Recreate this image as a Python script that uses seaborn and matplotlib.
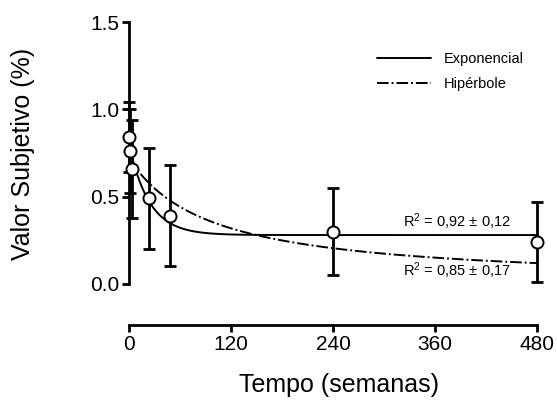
import numpy as np
import pandas as pd
import matplotlib
matplotlib.use("Agg")
import matplotlib.pyplot as plt
import seaborn as sns

# Data
weeks = [0.5, 1, 4, 24, 48, 240, 480]
value = [0.84, 0.76, 0.66, 0.49, 0.39, 0.30, 0.24]
sem = [0.20, 0.24, 0.28, 0.29, 0.29, 0.25, 0.23]

# Fitted model parameters
exp_y0, exp_plateau, exp_k = 0.80, 0.28, 0.042
hyp_a, hyp_k = 0.72, 0.0105

xticks = [0, 120, 240, 360, 480]
yticks = [0.0, 0.5, 1.0, 1.5]
ytick_labels = ["0.0", "0.5", "1.0", "1.5"]

sns.set_theme(style="ticks")
plt.rcParams["font.family"] = ["Liberation Sans", "DejaVu Sans"]
plt.rcParams["mathtext.fontset"] = "custom"
plt.rcParams["mathtext.rm"] = "Liberation Sans"
plt.rcParams["mathtext.it"] = "Liberation Sans"
plt.rcParams["mathtext.default"] = "regular"
plt.rcParams["text.color"] = "black"
plt.rcParams["axes.labelcolor"] = "black"
plt.rcParams["xtick.color"] = "black"
plt.rcParams["ytick.color"] = "black"

fig = plt.figure(figsize=(5.57, 4.01), dpi=100)
ax = fig.add_axes([129 / 557, (401 - 325) / 401, (537 - 129) / 557, (325 - 22) / 401])

xs = np.linspace(0, 480, 600)
curves = pd.DataFrame({
    "x": np.concatenate([xs, xs]),
    "y": np.concatenate([
        exp_plateau + (exp_y0 - exp_plateau) * np.exp(-exp_k * xs),
        hyp_a / (1 + hyp_k * xs),
    ]),
    "Modelo": ["Exponencial"] * len(xs) + ["Hipérbole"] * len(xs),
})

sns.lineplot(data=curves, x="x", y="y", style="Modelo",
             dashes={"Exponencial": "", "Hipérbole": (6, 1.5, 1, 1.5)},
             color="black", linewidth=1.4, ax=ax)

ax.errorbar(weeks, value, yerr=sem, fmt="none", ecolor="black",
            elinewidth=2, capsize=4.5, capthick=2, clip_on=False, zorder=3)
sns.scatterplot(x=weeks, y=value, marker="o", s=75, facecolor="white",
                edgecolor="black", linewidth=1.4, ax=ax, zorder=4, clip_on=False)

ax.set_xlim(0, 480)
ax.set_ylim(-0.235, 1.5)
ax.set_xticks(xticks)
ax.set_xticklabels([str(t) for t in xticks], fontsize=15, color="black")
ax.set_yticks(yticks)
ax.set_yticklabels(ytick_labels, fontsize=15, color="black")
ax.spines["left"].set_bounds(0, 1.5)
ax.spines["bottom"].set_bounds(0, 480)
for s in ["left", "bottom"]:
    ax.spines[s].set_linewidth(2)
    ax.spines[s].set_color("black")
sns.despine(ax=ax)
ax.tick_params(axis="both", width=2, length=5, color="black", pad=2, labelcolor="black")

ax.set_xlabel("Tempo (semanas)", fontsize=18, color="black")
ax.set_ylabel("Valor Subjetivo (%)", fontsize=18, color="black")
ax.xaxis.set_label_coords(0.515, -0.158)
ax.yaxis.set_label_coords(-0.23, 0.564)

leg = ax.legend(loc="upper right", bbox_to_anchor=(1.0, 0.945), frameon=False,
                fontsize=10.5, handlelength=3.7, handletextpad=0.9, labelspacing=0.75,
                title=None)
for t in leg.get_texts():
    t.set_color("black")

ax.text(386, 0.358, r"R$^2$ = 0,92 ± 0,12", fontsize=10.5, ha="center", va="center", color="black")
ax.text(386, 0.077, r"R$^2$ = 0,85 ± 0,17", fontsize=10.5, ha="center", va="center", color="black")

fig.savefig("out.png", dpi=100)
